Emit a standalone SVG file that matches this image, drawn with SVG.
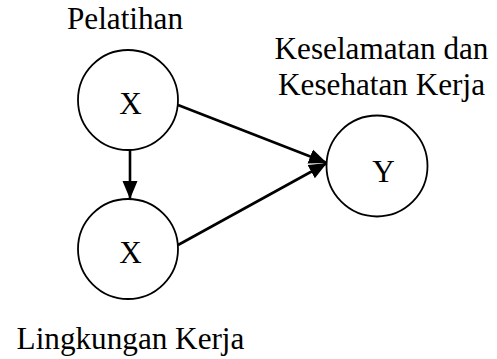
<svg xmlns="http://www.w3.org/2000/svg" width="497" height="359" viewBox="0 0 497 359">
<style>
.node{fill:#fff;stroke:#000;stroke-width:1.8}
.lbl{font-family:'Liberation Serif','Times New Roman','DejaVu Serif',serif;font-size:31.2px;fill:#000}
.edge{stroke:#000;stroke-width:2.6;fill:none}
</style>
<defs>
<marker id="ah" markerUnits="userSpaceOnUse" markerWidth="20" markerHeight="16" refX="18" refY="7.5" orient="auto" viewBox="0 0 20 15">
<path d="M0,0 L18,7.5 L0,15 Z" fill="#000"/>
</marker>
</defs>
<rect width="497" height="359" fill="#fff"/>
<g id="connectors">
<line class="edge" x1="130" y1="150" x2="130" y2="199" marker-end="url(#ah)"/>
<line class="edge" x1="178" y1="105" x2="327" y2="163" marker-end="url(#ah)"/>
<line class="edge" x1="178" y1="245" x2="327" y2="163" marker-end="url(#ah)"/>
</g>
<g id="node-x1">
<circle class="node" cx="128" cy="100" r="50"/>
<text class="lbl" x="130.5" y="114" text-anchor="middle">X</text>
<text class="lbl" x="125" y="29" text-anchor="middle">Pelatihan</text>
</g>
<g id="node-x2">
<circle class="node" cx="128" cy="249" r="50"/>
<text class="lbl" x="130.5" y="263" text-anchor="middle">X</text>
<text class="lbl" x="130.5" y="349" text-anchor="middle">Lingkungan Kerja</text>
</g>
<g id="node-y">
<circle class="node" cx="377" cy="166" r="50.5"/>
<text class="lbl" x="383.5" y="182" text-anchor="middle">Y</text>
<text class="lbl" x="381.5" y="59" text-anchor="middle">Keselamatan dan</text>
<text class="lbl" x="381.5" y="95" text-anchor="middle">Kesehatan Kerja</text>
</g>
</svg>
